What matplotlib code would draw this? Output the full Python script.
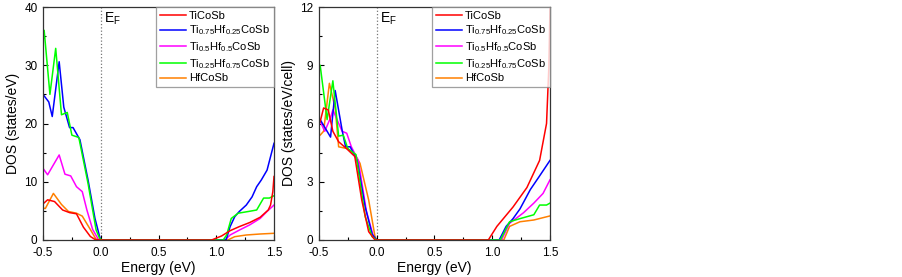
import matplotlib
matplotlib.use("Agg")
import matplotlib.pyplot as plt
from matplotlib.ticker import MultipleLocator

plt.rcParams["font.family"] = ["Liberation Sans", "DejaVu Sans"]
plt.rcParams["mathtext.fontset"] = "custom"
plt.rcParams["mathtext.rm"] = "Liberation Sans"
plt.rcParams["mathtext.it"] = "Liberation Sans"

labels = [
    "TiCoSb",
    r"Ti$_{0.75}$Hf$_{0.25}$CoSb",
    r"Ti$_{0.5}$Hf$_{0.5}$CoSb",
    r"Ti$_{0.25}$Hf$_{0.75}$CoSb",
    "HfCoSb",
]
colors = ["#ff0000", "#0000ff", "#ff00ff", "#00ff00", "#ff8000"]

# left panel: DOS (states/eV)
ti_x_a = [-0.5, -0.46, -0.40, -0.33, -0.27, -0.21, -0.15, -0.09, -0.05, 0.0,
          0.96, 1.047, 1.12, 1.20, 1.29, 1.38, 1.45, 1.47, 1.49, 1.5]
ti_y_a = [6.2, 6.9, 6.6, 5.15, 4.7, 4.5, 2.2, 0.6, 0.1, 0.0,
          0.0, 0.7, 1.6, 2.3, 3.0, 3.9, 5.15, 6.0, 8.3, 10.9]
t75_x_a = [-0.5, -0.45, -0.42, -0.36, -0.32, -0.27, -0.24, -0.18, -0.11, -0.05, -0.01, 0.0,
           1.085, 1.12, 1.16, 1.20, 1.26, 1.31, 1.35, 1.39, 1.44, 1.5]
t75_y_a = [25.0, 23.7, 21.2, 30.6, 22.8, 19.3, 19.3, 17.2, 10.3, 3.7, 0.6, 0.0,
           0.0, 2.3, 4.0, 4.9, 6.0, 7.4, 9.15, 10.3, 12.0, 16.6]
t50_x_a = [-0.5, -0.46, -0.36, -0.31, -0.26, -0.21, -0.16, -0.12, -0.07, -0.02, 0.0,
           1.075, 1.12, 1.20, 1.29, 1.38, 1.44, 1.5]
t50_y_a = [12.3, 11.2, 14.6, 11.3, 11.0, 9.15, 8.3, 5.15, 1.8, 0.1, 0.0,
           0.0, 0.86, 1.7, 2.6, 3.7, 4.9, 6.0]
t25_x_a = [-0.5, -0.49, -0.44, -0.39, -0.34, -0.29, -0.25, -0.19, -0.11, -0.04, -0.01, 0.01,
           1.06, 1.09, 1.13, 1.19, 1.28, 1.35, 1.41, 1.46, 1.5]
t25_y_a = [34.0, 36.0, 25.0, 32.9, 21.5, 21.9, 18.0, 17.6, 9.7, 1.7, 0.3, 0.0,
           0.0, 0.86, 3.7, 4.6, 4.9, 5.15, 7.2, 7.2, 7.6]
hf_x_a = [-0.5, -0.48, -0.41, -0.34, -0.28, -0.21, -0.16, -0.09, -0.04, 0.0,
          1.10, 1.16, 1.26, 1.38, 1.5]
hf_y_a = [5.5, 5.4, 8.0, 6.1, 4.9, 4.6, 4.1, 1.8, 0.1, 0.0,
          0.0, 0.57, 0.86, 1.03, 1.15]

# right panel: DOS (states/eV/cell)
ti_x_b = [-0.5, -0.49, -0.46, -0.42, -0.38, -0.33, -0.26, -0.19, -0.13, -0.07, -0.015, 0.0,
          0.966, 1.04, 1.18, 1.30, 1.41, 1.47, 1.49, 1.5]
ti_y_b = [6.0, 6.1, 6.8, 6.7, 5.6, 5.06, 4.7, 4.3, 2.06, 0.43, 0.0, 0.0,
          0.0, 0.7, 1.7, 2.7, 4.1, 6.0, 8.9, 12.0]
t75_x_b = [-0.5, -0.49, -0.45, -0.40, -0.36, -0.30, -0.27, -0.23, -0.17, -0.10, -0.04, 0.0,
           1.06, 1.12, 1.18, 1.24, 1.33, 1.41, 1.5]
t75_y_b = [6.2, 6.2, 5.8, 5.3, 7.7, 5.66, 4.8, 4.8, 4.1, 1.7, 0.3, 0.0,
           0.0, 0.7, 1.1, 1.6, 2.6, 3.3, 4.1]
t50_x_b = [-0.5, -0.49, -0.45, -0.40, -0.38, -0.30, -0.26, -0.22, -0.16, -0.09, -0.03, 0.0,
           1.08, 1.15, 1.27, 1.36, 1.44, 1.5]
t50_y_b = [6.0, 6.1, 5.6, 6.3, 6.7, 5.6, 5.5, 4.8, 4.1, 1.5, 0.2, 0.0,
           0.0, 0.86, 1.4, 1.9, 2.4, 3.1]
t25_x_b = [-0.5, -0.49, -0.43, -0.38, -0.33, -0.29, -0.25, -0.18, -0.10, -0.04, 0.0,
           1.07, 1.15, 1.24, 1.36, 1.41, 1.47, 1.5]
t25_y_b = [8.7, 9.0, 6.2, 8.2, 5.35, 5.4, 4.7, 4.4, 1.2, 0.17, 0.0,
           0.0, 0.94, 1.1, 1.3, 1.8, 1.8, 1.9]
hf_x_b = [-0.5, -0.49, -0.46, -0.41, -0.36, -0.33, -0.25, -0.18, -0.145, -0.07, -0.015, 0.0,
          1.10, 1.15, 1.24, 1.36, 1.5]
hf_y_b = [5.4, 5.4, 5.6, 8.07, 6.8, 4.8, 4.7, 4.3, 3.95, 2.06, 0.17, 0.0,
          0.0, 0.7, 0.94, 1.03, 1.24]

panels = [
    {"xs": [ti_x_a, t75_x_a, t50_x_a, t25_x_a, hf_x_a],
     "ys": [ti_y_a, t75_y_a, t50_y_a, t25_y_a, hf_y_a],
     "ylim": 40, "major": 10, "minor": 5, "ylabel": "DOS (states/eV)"},
    {"xs": [ti_x_b, t75_x_b, t50_x_b, t25_x_b, hf_x_b],
     "ys": [ti_y_b, t75_y_b, t50_y_b, t25_y_b, hf_y_b],
     "ylim": 12, "major": 3, "minor": 1.5, "ylabel": "DOS (states/eV/cell)"},
]

fig = plt.figure(figsize=(9.03, 2.77), dpi=100)
lefts = [43 / 903, 319 / 903]
for left, p in zip(lefts, panels):
    ax = fig.add_axes([left, 1 - 240 / 277, 231 / 903, 233 / 277])
    order = [4, 2, 1, 3, 0]
    lines = {}
    for i in order:
        ln, = ax.plot(p["xs"][i], p["ys"][i], color=colors[i], lw=1.1)
        lines[i] = ln
    ax.axvline(0, color="#777777", ls=":", lw=0.9, zorder=0)
    ymax = p["ylim"]
    ax.text(0.03, ymax * 0.985, r"E$_{\mathrm{F}}$", fontsize=10, va="top", ha="left")
    ax.set_xlim(-0.5, 1.5)
    ax.set_ylim(0, ymax)
    ax.xaxis.set_major_locator(MultipleLocator(0.5))
    ax.xaxis.set_minor_locator(MultipleLocator(0.25))
    ax.yaxis.set_major_locator(MultipleLocator(p["major"]))
    ax.yaxis.set_minor_locator(MultipleLocator(p["minor"]))
    ax.xaxis.set_major_formatter(matplotlib.ticker.FormatStrFormatter("%.1f"))
    ax.tick_params(which="both", direction="in", labelsize=8.5, width=0.8)
    ax.tick_params(axis="x", pad=5)
    ax.tick_params(axis="y", pad=4)
    ax.tick_params(which="major", length=3.5)
    ax.tick_params(which="minor", length=2)
    for s in ax.spines.values():
        s.set_linewidth(0.9)
        s.set_color("#333333")
    ax.set_xlabel("Energy (eV)", fontsize=10)
    ax.set_ylabel(p["ylabel"], fontsize=10)
    ax.xaxis.set_label_coords(0.5, -0.09)
    ax.yaxis.set_label_coords(-0.1, 0.5)
    leg = ax.legend([lines[i] for i in range(5)], labels, loc="upper right",
                    fontsize=8, frameon=True, fancybox=False, borderaxespad=0,
                    handlelength=2.3, handletextpad=0.3, labelspacing=0.25,
                    borderpad=0.35)
    leg.get_frame().set_edgecolor("#888888")
    leg.get_frame().set_linewidth(0.9)

fig.savefig("out.png", dpi=100)
